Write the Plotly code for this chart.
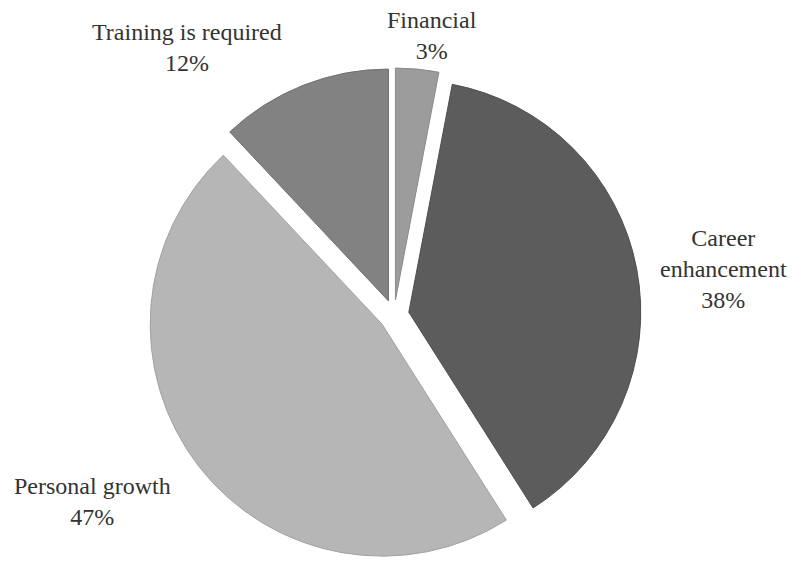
import plotly.graph_objects as go

categories = ["Financial", "Career enhancement", "Personal growth", "Training is required"]
shares = [3, 38, 47, 12]
display_names = ["Financial", "Career<br>enhancement", "Personal growth", "Training is required"]
slice_colors = ["#9c9c9c", "#5c5c5c", "#b6b6b6", "#828282"]
edge_colors = ["#8a8a8a", "#4e4e4e", "#a2a2a2", "#727272"]

# label centres in paper coordinates (relative to the plot area)
label_xy = [(0.5455, 1.0658), (0.2361, 1.0405), (0.9129, 0.5931), (0.1162, 0.1215)]
label_order = ["Financial", "Training is required", "Career enhancement", "Personal growth"]

serif = "Liberation Serif, Times New Roman, Times, serif"

fig = go.Figure(
    go.Pie(
        labels=categories,
        values=shares,
        sort=False,
        direction="clockwise",
        rotation=0,
        pull=0.065,
        marker=dict(colors=slice_colors, line=dict(color=edge_colors, width=1)),
        textinfo="none",
        hoverinfo="label+percent",
        domain=dict(x=[0.0, 0.995], y=[0.0, 1.0]),
        showlegend=False,
    )
)

for cat, (ax, ay) in zip(label_order, label_xy):
    i = categories.index(cat)
    fig.add_annotation(
        x=ax,
        y=ay,
        xref="paper",
        yref="paper",
        xanchor="center",
        yanchor="middle",
        text=f"{display_names[i]}<br>{shares[i]}%",
        showarrow=False,
        align="center",
        font=dict(family=serif, size=24, color="#333333"),
    )

fig.update_layout(
    width=792,
    height=569,
    margin=dict(l=0, r=0, t=68, b=7),
    paper_bgcolor="#ffffff",
    plot_bgcolor="#ffffff",
    font=dict(family=serif),
)

fig.write_html("out.html")
